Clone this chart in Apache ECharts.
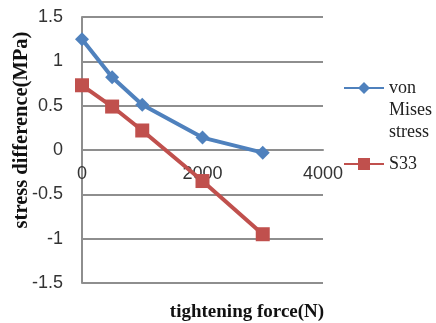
<!DOCTYPE html>
<html><head><meta charset="utf-8">
<script src="https://cdn.jsdelivr.net/npm/echarts@6/dist/echarts.min.js"></script>
<style>html,body{margin:0;padding:0;background:#fff}#c{width:436px;height:323px}</style>
</head><body><div id="c"></div>
<script>
const forces = [0, 500, 1000, 2000, 3000];
const vonMises = [1.25, 0.82, 0.51, 0.14, -0.03];
const s33 = [0.73, 0.49, 0.22, -0.35, -0.95];
const seriesNames = ['von Mises stress', 'S33'];
const xTitle = 'tightening force(N)';
const yTitle = 'stress difference(MPa)';

const chart = echarts.init(document.getElementById('c'), null, {renderer: 'canvas'});
const gray = '#8e8e8e';
chart.setOption({
  animation: false,
  backgroundColor: '#fff',
  grid: {left: 82, right: 113, top: 17, bottom: 40, containLabel: false},
  xAxis: {
    type: 'value', min: 0, max: 4000, interval: 2000,
    offset: -133,
    axisLine: {show: true, onZero: false, lineStyle: {color: gray, width: 2}},
    axisTick: {show: false},
    splitLine: {show: false},
    axisLabel: {color: '#333', fontFamily: 'Liberation Sans', fontSize: 18, margin: 15,
      formatter: function (v) { return String(v); }}
  },
  yAxis: {
    type: 'value', min: -1.5, max: 1.5, interval: 0.5,
    axisLine: {show: true, lineStyle: {color: gray, width: 2}},
    axisTick: {show: false},
    splitLine: {show: true, lineStyle: {color: gray, width: 2}},
    axisLabel: {color: '#333', fontFamily: 'Liberation Sans', fontSize: 18, margin: 19}
  },
  legend: {
    orient: 'vertical', left: 338, top: 28, itemGap: 10,
    itemWidth: 40, itemHeight: 15,
    data: seriesNames,
    // wrap the long name; two leading blank lines keep its first line beside the icon
    formatter: function (n) { return n === seriesNames[0] ? '\n\nvon\nMises\nstress' : n; },
    textStyle: {fontFamily: 'Liberation Serif', fontSize: 18, lineHeight: 22, color: '#222'}
  },
  graphic: [
    {type: 'text', style: {text: xTitle, x: 247, y: 312, align: 'center', verticalAlign: 'middle', font: 'bold 19px "Liberation Serif"', fill: '#111'}},
    {type: 'text', style: {text: yTitle, x: 0, y: 0, align: 'center', verticalAlign: 'middle', font: 'bold 20.5px "Liberation Serif"', fill: '#111'}, x: 22, y: 130, rotation: Math.PI / 2}
  ],
  series: [
    {name: seriesNames[0], type: 'line', data: forces.map((f, i) => [f, vonMises[i]]),
     symbol: 'diamond', symbolSize: 14, lineStyle: {color: '#4f81bd', width: 4},
     itemStyle: {color: '#4f81bd'}},
    {name: seriesNames[1], type: 'line', data: forces.map((f, i) => [f, s33[i]]),
     symbol: 'rect', symbolSize: 14, lineStyle: {color: '#c0504d', width: 4},
     itemStyle: {color: '#c0504d'}}
  ]
});
</script>
</body></html>
